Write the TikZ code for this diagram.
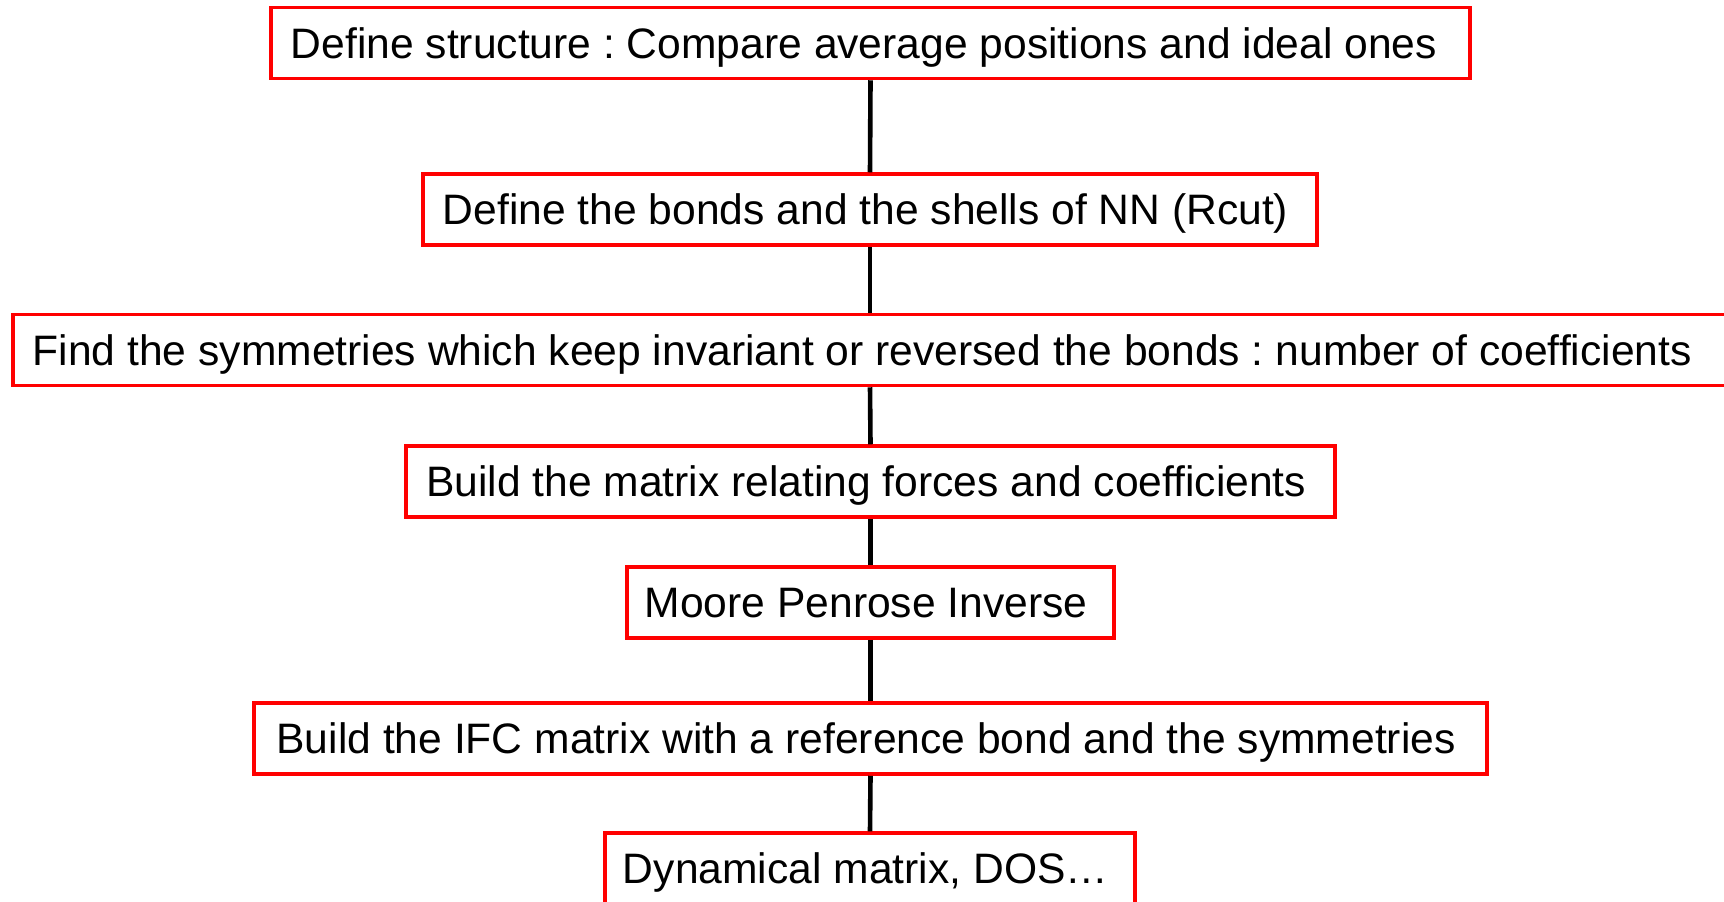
\documentclass[tikz,border=0pt]{standalone}
\usepackage{fontspec}
\setmainfont{Liberation Sans}
\frenchspacing
\begin{document}
\begin{tikzpicture}[x=0.5pt, y=-0.5pt,
    stepBox/.style={draw=red, line width=1.75pt, minimum height=35.5pt, inner sep=0pt,
        text height=15.3pt, text depth=0pt, font=\fontsize{21.3}{25}\selectfont,
        execute at end node=\hspace*{4.4pt}},
    linkStyle/.style={line width=2.3pt, black}]
    \useasboundingbox (0,0) rectangle (1724,901);
    \clip (0,0) rectangle (1724,901);
    \node[stepBox, minimum width=599.5pt](s1) at (870.5, 43) {Define structure : Compare average positions and ideal ones\hspace*{2.2pt}};
    \node[stepBox, minimum width=447pt](s2) at (870, 209.5) {Define the bonds and the shells of NN (Rcut)};
    \node[stepBox, anchor=west, inner xsep=10pt, text width=845pt, align=flush left](s3) at (11, 350) {Find the symmetries which keep invariant or reversed the bonds : number of coefficients};
    \node[stepBox, minimum width=464.5pt](s4) at (870.5, 481.5) {Build the matrix relating forces and coefficients};
    \node[stepBox, minimum width=243.5pt](s5) at (870.5, 602.5) {Moore Penrose Inverse};
    \node[stepBox, minimum width=616.5pt](s6) at (870.5, 738.5) {Build the IFC matrix with a reference bond and the symmetries};
    \node[stepBox, minimum width=265pt](s7) at (870, 868.5) {Dynamical matrix, DOS…};

    \draw[linkStyle] (s1.south) -- (s2.north);
    \draw[linkStyle] (s2.south) -- (s2.south |- s3.north);
    \draw[linkStyle] (s2.south |- s3.south) -- (s4.north);
    \draw[linkStyle] (s4.south) -- (s5.north);
    \draw[linkStyle] (s5.south) -- (s6.north);
    \draw[linkStyle] (s6.south) -- (s7.north);
\end{tikzpicture}
\end{document}
